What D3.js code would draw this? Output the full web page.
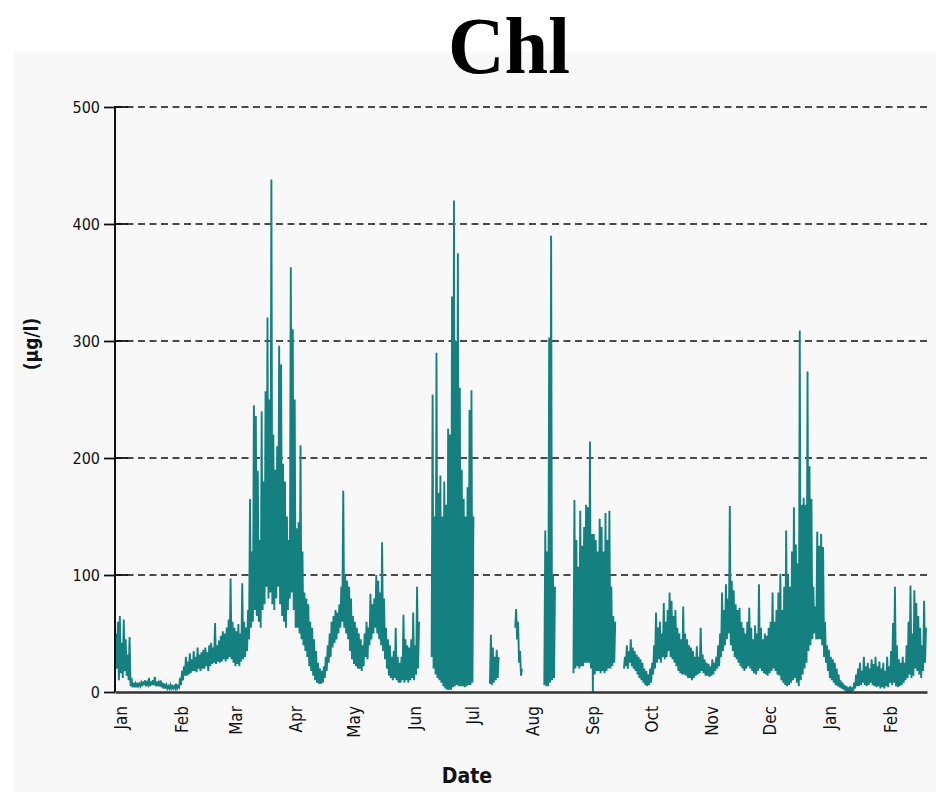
<!DOCTYPE html>
<html>
<head>
<meta charset="utf-8">
<script src="https://cdn.jsdelivr.net/npm/d3@7"></script>
<style>
  html, body { margin: 0; padding: 0; background: #fff; }
  svg { display: block; }
  .tick-label { font-family: "DejaVu Sans Condensed", "DejaVu Sans", sans-serif; font-stretch: condensed; }
</style>
</head>
<body>
<svg id="chart" width="936" height="792"></svg>
<script>
// Daily chlorophyll record (µg/l): one low and one high reading per day,
// starting on 29 Dec 2006. null marks days without sensor data.
const seriesStart = new Date(2006, 11, 29);
const axisStart = new Date(2006, 11, 29);
const axisEnd = new Date(2008, 1, 20);
const yTicks = [0, 100, 200, 300, 400, 500];

const chlHigh = [
  50,60,65,42,62,45,32,47,12,
  8,7,8,7,8,9,10,8,12,9,10,13,9,8,10,8,7,6,5,6,5,5,7,5,
  12,18,22,30,26,33,28,35,30,38,32,34,
  36,38,34,40,42,38,59,40,44,48,52,50,55,62,97,
  60,55,52,58,50,93,60,55,70,165,
  120,245,236,189,130,240,180,257,320,250,
  438,220,190,210,296,280,195,180,150,130,
  363,310,250,140,145,211,120,85,80,75,
  60,55,45,35,25,20,18,22,30,40,
  50,60,65,70,68,75,90,172,100,95,
  90,80,65,60,55,50,45,40,50,60,
  55,84,75,80,100,95,85,128,80,55,
  45,40,30,35,55,30,25,30,66,45,
  40,38,45,68,40,90,60,
  null,null,null,null,null,null,
  254,150,290,170,185,150,180,160,225,220,338,420,300,375,260,190,165,150,175,241,258,150,
  null,null,null,null,null,null,null,null,
  49,38,30,36,30,
  null,null,null,null,null,null,null,null,
  71,60,35,20,
  null,null,null,null,null,null,null,null,null,null,null,
  138,120,303,390,101,90,
  null,null,null,null,null,null,null,null,null,
  164,130,107,155,125,141,160,158,214,135,135,130,120,148,141,120,153,130,155,90,65,60,
  null,null,null,null,
  30,40,35,45,38,35,32,30,28,25,
  20,18,15,20,25,40,68,55,60,50,
  76,60,70,85,78,65,70,55,50,45,
  73,50,45,40,38,35,30,39,
  30,55,32,28,25,24,22,28,25,30,
  40,50,85,70,92,80,159,95,87,75,
  70,72,60,55,50,60,72,55,45,57,
  50,92,55,45,50,48,55,60,85,60,
  70,85,101,70,90,138,100,90,120,158,
  126,110,309,160,166,160,274,193,165,90,
  73,137,125,135,124,60,40,36,30,28,
  25,20,15,10,8,6,5,4,5,4,
  8,15,20,25,18,30,22,25,20,28,
  24,30,22,26,20,25,18,30,22,35,
  59,90,40,28,25,30,25,40,60,91,
  50,87,76,65,55,40,78,55
];

const chlLow = [
  15,20,10,16,12,18,14,10,5,
  4,4,4,5,5,5,6,5,6,5,6,6,5,5,5,4,3,3,3,3,3,3,3,3,
  4,6,10,14,14,15,16,18,18,17,20,18,
  20,20,22,18,22,24,25,24,26,25,26,28,26,28,30,
  28,25,22,24,22,26,28,30,35,45,
  55,60,70,65,60,55,70,75,90,80,
  85,75,70,80,90,75,65,60,55,70,
  80,85,70,55,55,50,45,40,35,30,
  22,18,14,10,8,7,7,8,12,18,
  25,30,38,42,45,50,55,60,55,50,
  45,35,28,24,22,20,20,18,22,30,
  28,40,45,50,55,50,45,40,35,28,
  20,14,12,10,12,10,8,8,10,8,
  10,8,10,12,10,15,20,
  null,null,null,null,null,null,
  30,20,15,12,10,8,5,3,2,2,2,4,5,6,5,5,5,4,5,6,6,8,
  null,null,null,null,null,null,null,null,
  7,6,8,10,12,
  null,null,null,null,null,null,null,null,
  55,45,25,14,
  null,null,null,null,null,null,null,null,null,null,null,
  6,5,5,8,10,12,
  null,null,null,null,null,null,null,null,null,
  16,20,22,20,22,22,25,25,25,20,0,15,18,18,16,18,16,18,20,20,22,25,
  null,null,null,null,
  20,22,20,25,22,20,18,15,12,10,
  8,6,5,6,8,15,20,25,28,25,
  30,28,30,35,30,28,25,22,18,16,
  15,15,14,12,12,10,12,14,
  15,16,18,16,14,14,13,14,15,18,
  20,22,30,35,40,45,50,40,35,30,
  28,25,22,20,18,20,22,20,18,16,
  15,18,20,18,16,15,14,16,18,20,
  18,15,14,10,8,6,5,6,8,10,
  12,8,5,10,15,20,25,35,40,45,
  50,45,45,45,40,30,25,18,12,10,
  8,6,5,4,3,2,1,0,0,0,
  1,3,5,5,6,8,6,5,6,8,
  6,5,4,5,3,4,3,5,4,8,
  6,8,5,4,5,6,8,10,12,15,
  12,14,20,18,15,12,18,25
];

const W = 936, H = 792;
const plotLeft = 115, plotRight = 927, plotBottom = 692, plotTop = 107;

const svg = d3.select("#chart");

const x = d3.scaleTime().domain([axisStart, axisEnd]).range([plotLeft, plotRight]);
const y = d3.scaleLinear().domain([0, 500]).range([plotBottom, plotTop]);

// light panel behind the chart
svg.append("rect")
  .attr("x", 14).attr("y", 52)
  .attr("width", W - 14).attr("height", H - 52)
  .attr("fill", "#f8f8f8");

// title
svg.append("text")
  .attr("x", 509).attr("y", 73)
  .attr("text-anchor", "middle")
  .attr("textLength", 122)
  .attr("lengthAdjust", "spacingAndGlyphs")
  .style("font-family", "'Liberation Serif', 'Times New Roman', serif")
  .style("font-weight", "bold")
  .style("font-size", "81px")
  .attr("fill", "#000")
  .text("Chl");

// dashed horizontal grid lines with short solid stubs at the axis
const gridVals = yTicks.filter(v => v > 0);
svg.append("g").selectAll("line")
  .data(gridVals).join("line")
  .attr("x1", plotLeft).attr("x2", 930)
  .attr("y1", d => y(d)).attr("y2", d => y(d))
  .attr("stroke", "#111").attr("stroke-width", 1.6)
  .attr("stroke-dasharray", "7,4.5");
svg.append("g").selectAll("line")
  .data(gridVals).join("line")
  .attr("x1", plotLeft).attr("x2", plotLeft + 13)
  .attr("y1", d => y(d)).attr("y2", d => y(d))
  .attr("stroke", "#111").attr("stroke-width", 1.8);

// the chlorophyll trace: alternate each day's low and high reading
const pts = [];
chlHigh.forEach((hi, i) => {
  const t = d3.timeDay.offset(seriesStart, i);
  const lo = chlLow[i];
  if (hi == null || lo == null) { pts.push({ t, v: null }); return; }
  pts.push({ t, v: lo });
  pts.push({ t: d3.timeHour.offset(t, 12), v: hi });
});
const line = d3.line()
  .defined(d => d.v != null)
  .x(d => x(d.t))
  .y(d => y(d.v));
svg.append("path")
  .datum(pts)
  .attr("d", line)
  .attr("fill", "none")
  .attr("stroke", "#158080")
  .attr("stroke-width", 1.9);

// y axis
const yAxis = svg.append("g")
  .attr("transform", `translate(${plotLeft},0)`)
  .call(d3.axisLeft(y).tickValues(yTicks).tickSize(11).tickSizeOuter(0).tickPadding(4));
yAxis.select(".domain").attr("stroke", "#111").attr("stroke-width", 2)
  .attr("d", `M0,${plotBottom}V${plotTop - 1}`);
yAxis.selectAll(".tick line").attr("stroke", "#111").attr("stroke-width", 1.8);
yAxis.selectAll(".tick text")
  .attr("class", "tick-label")
  .style("font-size", "16px")
  .attr("fill", "#111");

// x axis with month labels
const xAxis = svg.append("g")
  .attr("transform", `translate(0,${plotBottom})`)
  .call(d3.axisBottom(x)
    .ticks(d3.timeMonth.every(1))
    .tickFormat(d3.timeFormat("%b"))
    .tickSize(0).tickSizeOuter(0));
xAxis.select(".domain").attr("stroke", "#333").attr("stroke-width", 2.5);
xAxis.selectAll(".tick text")
  .attr("class", "tick-label")
  .attr("transform", "rotate(-90)")
  .attr("text-anchor", "end")
  .attr("x", -14).attr("y", 0)
  .attr("dy", "0.35em")
  .style("font-size", "17px")
  .attr("fill", "#111");

// axis titles
svg.append("text")
  .attr("x", 467).attr("y", 783)
  .attr("text-anchor", "middle")
  .attr("class", "tick-label")
  .style("font-weight", "bold")
  .style("font-size", "21px")
  .attr("fill", "#111")
  .text("Date");

svg.append("text")
  .attr("transform", "translate(38,344) rotate(-90)")
  .attr("text-anchor", "middle")
  .attr("class", "tick-label")
  .style("font-weight", "bold")
  .style("font-size", "19px")
  .attr("fill", "#111")
  .text("(µg/l)");
</script>
</body>
</html>
